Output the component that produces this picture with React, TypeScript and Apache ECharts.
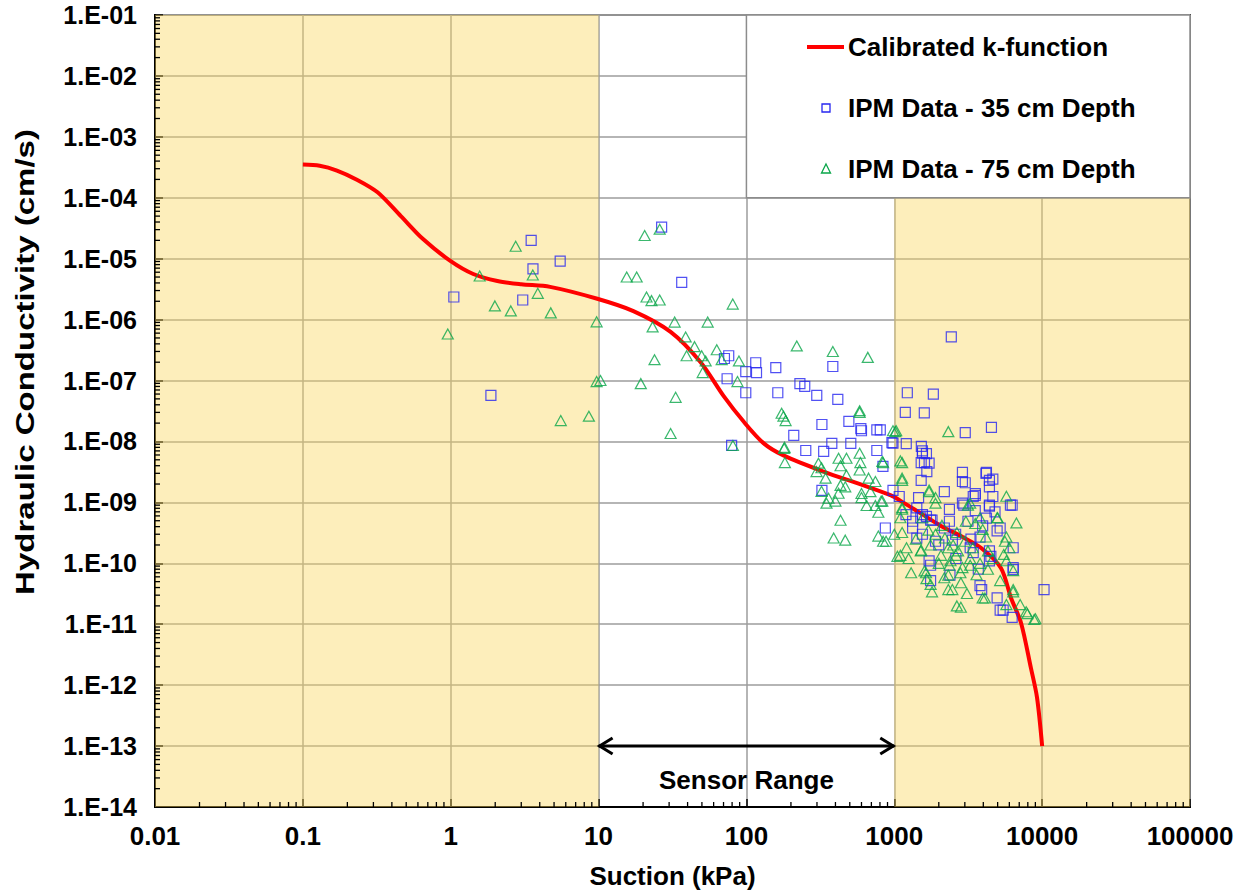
import React, { useEffect, useRef } from "react";
import * as echarts from "echarts";

const xTickLabels = ["0.01", "0.1", "1", "10", "100", "1000", "10000", "100000"];
const yTickLabels = [
  "1.E-14", "1.E-13", "1.E-12", "1.E-11", "1.E-10", "1.E-09", "1.E-08",
  "1.E-07", "1.E-06", "1.E-05", "1.E-04", "1.E-03", "1.E-02", "1.E-01",
];

const seriesNames = ["Calibrated k-function", "IPM Data - 35 cm Depth", "IPM Data - 75 cm Depth"];

// Calibrated k-function: suction (kPa), k (cm/s)
const kSuction = [0.1, 0.13, 0.17, 0.23, 0.32, 0.46, 0.65, 1.0, 1.42, 2.07, 3.0, 4.7, 9.8, 17.2, 30.7, 49, 70, 96, 131, 178, 332, 620, 950, 1110, 1510, 2070, 2820, 3850, 5260, 6160, 7200, 8400, 9230, 10000];
const kValues = [3.5e-4, 3.35e-4, 2.8e-4, 2.0e-4, 1.23e-4, 5.0e-5, 2.1e-5, 9.1e-6, 5.6e-6, 4.3e-6, 3.8e-6, 3.45e-6, 2.2e-6, 1.38e-6, 6.3e-7, 2.0e-7, 5.6e-8, 2.1e-8, 9.3e-9, 5.9e-9, 3.2e-9, 1.9e-9, 1.3e-9, 1.05e-9, 6.6e-10, 4.1e-10, 2.8e-10, 1.8e-10, 8.4e-11, 2.7e-11, 1.05e-11, 1.9e-12, 6.3e-13, 1.0e-13];

// IPM Data - 35 cm depth: [suction kPa, k cm/s]
const ipm35 = [
  [1.05, 2.35e-6], [1.87, 5.7e-8], [3.07, 2.1e-6], [3.5, 2.0e-5], [3.6, 6.8e-6], [5.5, 9.1e-6],
  [26.7, 3.3e-5], [36.5, 4.1e-6], [75.9, 2.55e-7], [71, 2.3e-7], [115.6, 1.96e-7], [99, 1.4e-7], [117, 1.35e-7], [158, 1.63e-7], [384, 1.7e-7], [74, 1.07e-7], [99, 6.3e-8], [163, 6.3e-8], [230, 8.9e-8], [248, 8.0e-8], [299, 5.7e-8], [415, 4.9e-8], [209, 1.26e-8], [324, 1.9e-8], [493, 2.13e-8], [594, 1.63e-8], [600, 1.5e-8], [762, 1.55e-8], [252, 7.1e-9], [333, 6.9e-9], [378, 9.3e-9], [508, 9.3e-9], [762, 7.1e-9], [964, 9.6e-9], [79.4, 8.6e-9], [838, 3.9e-9], [324, 1.58e-9],
  [2430, 5.2e-7], [1225, 6.3e-8], [1837, 6.0e-8], [1187, 3.0e-8], [1596, 2.95e-8], [3020, 1.4e-8], [4540, 1.7e-8], [804, 1.55e-8], [980, 9.4e-9], [1205, 9.2e-9], [1524, 8.3e-9], [1650, 6.3e-9], [1720, 4.4e-9],
  [10300, 3.7e-11], [4170, 3.0e-9], [4640, 2.4e-9], [4400, 1.8e-9], [6100, 9.0e-10], [980, 1.58e-9], [870, 3.8e-10],
  [1550, 6.4e-9], [1520, 4.5e-9], [1660, 3.2e-9], [1520, 2.3e-9], [2890, 3.1e-9], [2890, 2.2e-9], [4200, 3.1e-9], [4400, 2.3e-9], [2180, 1.5e-9], [1080, 1.25e-9], [3530, 1.3e-9], [4640, 1.25e-9], [4400, 9.0e-10], [6270, 9.0e-10], [2360, 7.7e-10], [2890, 9.7e-10], [1510, 5.6e-10], [1650, 5.9e-10], [1800, 5.1e-10], [2360, 4.9e-10], [3150, 4.9e-10], [3960, 4.1e-10], [4960, 3.4e-10], [6370, 1.8e-10], [6370, 8.5e-11], [3260, 1.8e-10], [3800, 2.7e-10], [4400, 1.6e-10], [1760, 9.3e-11], [1760, 5.2e-11], [3800, 4.3e-11], [4960, 2.7e-11], [5200, 1.7e-11], [1420, 8.1e-10], [1200, 6.3e-10], [1330, 3.8e-10], [1550, 3.0e-10], [2180, 3.8e-10], [2470, 2.4e-10], [3420, 1.5e-10], [4400, 1.1e-10], [2610, 1.2e-10], [2380, 6.4e-11],
  [1550, 7.0e-9], [1600, 4.5e-9], [3020, 2.1e-9], [1460, 1.2e-9], [3420, 1.25e-9], [2950, 9.0e-10], [3530, 7.3e-10], [1550, 6.3e-10], [1760, 5.1e-10], [1330, 4.9e-10], [1420, 2.6e-10], [1900, 2.3e-10], [1720, 1.1e-10],
  [3530, 1.4e-9], [4400, 8.7e-10], [5200, 3.8e-10], [6370, 7.9e-11], [5450, 1.7e-11], [6270, 1.3e-11], [3900, 3.7e-11],
  [2000, 2.0e-10], [2600, 3.0e-10], [3300, 2.5e-10], [3700, 8.0e-11], [4200, 5.5e-10], [4800, 7.0e-10], [4500, 1.3e-10],
];

// IPM Data - 75 cm depth: [suction kPa, k cm/s]
const ipm75 = [
  [0.955, 5.8e-7], [1.57, 5.2e-6], [1.99, 1.68e-6], [2.55, 1.39e-6], [2.75, 1.6e-5], [3.59, 5.4e-6], [3.88, 2.7e-6], [4.75, 1.29e-6], [5.55, 2.2e-8], [8.6, 2.6e-8], [9.7, 9.2e-7], [9.7, 9.6e-8],
  [20.5, 2.4e-5], [25.9, 3.05e-5], [15.5, 5.0e-6], [18.1, 5.0e-6], [21.1, 2.35e-6], [22.8, 2.05e-6], [25.9, 2.1e-6], [80.8, 1.8e-6], [23.2, 7.6e-7], [32.7, 9.1e-7], [54.7, 9.1e-7], [38.8, 5.2e-7], [44.6, 3.6e-7], [39.4, 2.55e-7], [49.8, 2.55e-7], [53, 2.1e-7], [63, 3.2e-7], [68, 2.2e-7], [89, 2.1e-7], [87, 9.6e-8], [50.6, 1.35e-7], [23.9, 2.2e-7], [19.3, 8.9e-8], [10.3, 1.0e-7], [33.2, 5.3e-8], [30.7, 1.35e-8], [81, 8.6e-9],
  [219, 3.7e-7], [384, 3.0e-7], [662, 2.4e-7], [173, 2.9e-8], [184, 2.2e-8], [178, 2.6e-8], [583, 3.2e-8], [181, 8.0e-9], [182, 4.5e-9], [1030, 1.5e-8], [583, 6.4e-9],
  [583, 3.0e-8], [180, 7.7e-9], [307, 4.4e-9], [322, 3.7e-9], [298, 3.2e-9], [343, 2.5e-9], [322, 1.52e-9], [359, 1.17e-9], [420, 5.3e-9], [475, 5.3e-9], [433, 4.0e-9], [590, 4.5e-9], [583, 3.4e-9], [475, 2.8e-9], [433, 1.9e-9], [466, 1.8e-9], [420, 1.41e-9], [348, 9.7e-10], [400, 1.05e-9], [433, 5.1e-10], [389, 2.6e-10], [466, 2.4e-10], [600, 1.4e-9], [600, 1.2e-9], [670, 2.5e-9], [745, 2.2e-9], [690, 1.5e-9], [650, 8.9e-10], [745, 8.9e-10], [780, 6.9e-10], [815, 1.05e-9], [840, 4.5e-9], [980, 1.5e-8], [780, 2.8e-10], [840, 2.3e-10],
  [1016, 1.45e-8], [2320, 1.45e-8],
  [9000, 1.23e-11], [7950, 1.49e-11], [8830, 1.2e-11], [7100, 2.1e-11], [6700, 4.6e-10], [5730, 1.26e-9],
  [1130, 4.5e-9], [830, 4.7e-9], [1130, 2.3e-9], [1720, 1.5e-9], [1130, 7.7e-10], [830, 1.05e-9], [1900, 9.7e-10], [2650, 3.2e-10], [3150, 9.0e-10], [3800, 5.6e-10], [5000, 5.6e-10], [3530, 4.5e-10], [3960, 3.6e-10], [1000, 3.0e-10], [880, 2.3e-10], [1050, 1.3e-10], [1210, 1.8e-10], [1510, 1.6e-10], [1640, 7.0e-11], [2070, 1.35e-10], [2320, 1.8e-10], [2610, 1.35e-10], [3260, 1.2e-10], [2360, 9.3e-11], [2890, 8.5e-11], [3800, 1.0e-10], [4640, 1.2e-10], [5730, 1.1e-10], [2320, 6.4e-11], [2820, 4.8e-11], [2320, 3.7e-11], [3100, 3.2e-11], [4100, 2.7e-11], [6370, 3.7e-11], [2650, 2.0e-11], [7800, 1.6e-11], [1650, 5.6e-11], [1800, 3.4e-11], [5730, 2.1e-11], [5200, 5.2e-11],
  [1100, 4.8e-9], [1130, 2.5e-9], [1720, 1.6e-9], [1900, 1.2e-9], [1130, 8.2e-10], [1100, 5.6e-10], [1130, 3.2e-10], [1550, 5.6e-10], [1100, 1.35e-10], [1250, 1.2e-10], [1520, 1.65e-10], [1760, 2.0e-10], [1600, 7.5e-11], [2180, 5.8e-11], [1760, 4.5e-11], [2470, 3.7e-11], [2820, 1.9e-11], [3260, 9.3e-11], [3260, 9.7e-10], [3050, 4.9e-10],
  [3960, 2.7e-11], [6370, 3.4e-11], [5500, 1.4e-10], [6000, 1.8e-10], [5730, 2.7e-10], [4960, 5.6e-10], [5600, 2.3e-10], [4170, 2.7e-10], [6370, 7.6e-11],
  [1900, 3.0e-10], [2200, 2.6e-10], [2500, 2.0e-10], [2700, 1.6e-10], [3000, 2.3e-10], [3400, 1.8e-10], [2000, 1.0e-10], [2400, 1.1e-10], [2800, 7.0e-11], [3600, 6.5e-11], [4300, 8.0e-11], [4300, 1.6e-10], [1400, 2.5e-10], [1300, 7.0e-11], [2100, 4.2e-10], [1700, 3.5e-10],
];

// Shaded (outside sensor range) regions: [x0, x1, y0, y1]
const shadeRegions = [
  [0.01, 10, 1e-14, 1e-1],
  [1000, 100000, 1e-14, 1e-4],
];
const legendBoxRegion = [[100, 100000, 1e-4, 1e-1]];
const sensorRange = [[10, 1000, 1e-13]];

const FONT = "'Liberation Sans', Arial, Helvetica, sans-serif";
const RED = "#ff0000";
const BLUE = "#2626f0";
const GREEN = "#0aa64a";

export default function App() {
  const ref = useRef<HTMLDivElement>(null);
  useEffect(() => {
    if (!ref.current) return;
    const chart = echarts.init(ref.current, undefined, { renderer: "svg" });

    const yMinor: number[][] = [];
    for (let e = -14; e < -1; e++) for (let m = 2; m <= 9; m++) yMinor.push([0.01, m * Math.pow(10, e)]);
    const xMinor: number[][] = [];
    for (let e = -2; e < 5; e++) for (let m = 2; m <= 9; m++) xMinor.push([m * Math.pow(10, e), 1e-14]);

    const rectItem = (fill: string, stroke?: string) => (params: any, api: any) => {
      const p0 = api.coord([api.value(0), api.value(3)]);
      const p1 = api.coord([api.value(1), api.value(2)]);
      return {
        type: "rect",
        shape: { x: p0[0], y: p0[1], width: p1[0] - p0[0], height: p1[1] - p0[1] },
        style: { fill, stroke: stroke || null, lineWidth: stroke ? 1.5 : 0 },
      };
    };

    const legendFont = `bold 26px ${FONT}`;
    const legendX = 848;
    const rows = [47, 108, 169];

    const option: any = {
      animation: false,
      backgroundColor: "#ffffff",
      grid: {
        left: 155, top: 15, width: 1035, height: 795,
        show: true, borderColor: "#000", borderWidth: 2, backgroundColor: "transparent",
      },
      xAxis: {
        type: "log", logBase: 10, min: 0.01, max: 100000, splitNumber: 7, interval: 1,
        axisLine: { show: true, lineStyle: { color: "#000", width: 2 } },
        axisTick: { show: true, inside: true, length: 8, lineStyle: { color: "#000", width: 1.5 } },
        minorTick: { show: false },
        splitLine: { show: true, lineStyle: { color: "#9c9c9c", width: 1.5 } },
        axisLabel: {
          margin: 16, fontSize: 26, fontWeight: "bold", fontFamily: FONT, color: "#000",
          showMinLabel: true, showMaxLabel: true,
          formatter: (v: number) => xTickLabels[Math.round(Math.log10(v)) + 2],
        },
        name: "Suction (kPa)", nameLocation: "middle", nameGap: 56,
        nameTextStyle: { fontSize: 26, fontWeight: "bold", fontFamily: FONT, color: "#000" },
      },
      yAxis: {
        type: "log", logBase: 10, min: 1e-14, max: 1e-1, splitNumber: 13, interval: 1,
        axisLine: { show: true, lineStyle: { color: "#000", width: 2 } },
        axisTick: { show: true, inside: true, length: 8, lineStyle: { color: "#000", width: 1.5 } },
        minorTick: { show: false },
        splitLine: { show: true, lineStyle: { color: "#9c9c9c", width: 1.5 } },
        axisLabel: {
          margin: 18, fontSize: 25, fontWeight: "bold", fontFamily: FONT, color: "#000",
          showMinLabel: true, showMaxLabel: true,
          formatter: (v: number) => yTickLabels[Math.round(Math.log10(v)) + 14],
        },
      },
      graphic: [
        {
          type: "text", x: 25, y: 362, rotation: Math.PI / 2, scaleX: 1.27, z: 100,
          style: {
            text: "Hydraulic Conductivity (cm/s)", font: `bold 26px ${FONT}`, fill: "#000",
            textAlign: "center", textVerticalAlign: "middle",
          },
        },
        { type: "line", z: 100, shape: { x1: 807, y1: rows[0], x2: 844, y2: rows[0] }, style: { stroke: RED, lineWidth: 4 } },
        { type: "rect", z: 100, shape: { x: 822, y: rows[1] - 4, width: 8, height: 8 }, style: { fill: "none", stroke: BLUE, lineWidth: 1.3 } },
        { type: "polygon", z: 100, shape: { points: [[826, rows[2] - 5], [830.5, rows[2] + 4], [821.5, rows[2] + 4]] }, style: { fill: "none", stroke: GREEN, lineWidth: 1.3 } },
        ...seriesNames.map((n, i) => ({
          type: "text", z: 100, x: legendX, y: rows[i],
          style: { text: n, font: legendFont, fill: "#000", textAlign: "left", textVerticalAlign: "middle" },
        })),
      ],
      series: [
        {
          type: "custom", name: "shade", z: 1, silent: true,
          data: shadeRegions, encode: { x: [0, 1], y: [2, 3] },
          renderItem: rectItem("rgba(250, 214, 92, 0.42)"),
        },
        {
          type: "custom", name: "legendBox", z: 1.5, silent: true,
          data: legendBoxRegion, encode: { x: [0, 1], y: [2, 3] },
          renderItem: rectItem("#ffffff", "#8c8c8c"),
        },
        {
          type: "line", name: seriesNames[0], z: 3,
          data: kSuction.map((x, i) => [x, kValues[i]]),
          symbol: "none", smooth: 0.3,
          lineStyle: { color: RED, width: 4 },
          itemStyle: { color: RED },
        },
        {
          type: "scatter", name: seriesNames[1], z: 4, data: ipm35,
          symbol: "rect", symbolSize: 10,
          itemStyle: { color: "rgba(0,0,0,0)", borderColor: BLUE, borderWidth: 1.2 },
        },
        {
          type: "scatter", name: seriesNames[2], z: 5, data: ipm75,
          symbol: "triangle", symbolSize: [11, 10],
          itemStyle: { color: "rgba(0,0,0,0)", borderColor: GREEN, borderWidth: 1.2 },
        },
        {
          type: "custom", name: "yMinorTicks", z: 6, silent: true, data: yMinor,
          renderItem: (params: any, api: any) => {
            const p = api.coord([api.value(0), api.value(1)]);
            return { type: "line", shape: { x1: p[0], y1: p[1], x2: p[0] + 5, y2: p[1] }, style: { stroke: "#000", lineWidth: 1.3 } };
          },
        },
        {
          type: "custom", name: "xMinorTicks", z: 6, silent: true, data: xMinor,
          renderItem: (params: any, api: any) => {
            const p = api.coord([api.value(0), api.value(1)]);
            return { type: "line", shape: { x1: p[0], y1: p[1], x2: p[0], y2: p[1] - 5 }, style: { stroke: "#000", lineWidth: 1.3 } };
          },
        },
        {
          type: "custom", name: "sensorRange", z: 6, silent: true,
          data: sensorRange, encode: { x: [0, 1], y: 2 },
          renderItem: (params: any, api: any) => {
            const a = api.coord([api.value(0), api.value(2)]);
            const b = api.coord([api.value(1), api.value(2)]);
            const st = { stroke: "#000", lineWidth: 3, fill: null };
            return {
              type: "group",
              children: [
                { type: "line", shape: { x1: a[0], y1: a[1], x2: b[0], y2: b[1] }, style: st },
                { type: "polyline", shape: { points: [[a[0] + 14, a[1] - 8], [a[0] + 1, a[1]], [a[0] + 14, a[1] + 8]] }, style: st },
                { type: "polyline", shape: { points: [[b[0] - 14, b[1] - 8], [b[0] - 1, b[1]], [b[0] - 14, b[1] + 8]] }, style: st },
                {
                  type: "text", x: (a[0] + b[0]) / 2, y: a[1] + 34,
                  style: { text: "Sensor Range", font: `bold 26px ${FONT}`, fill: "#000", textAlign: "center", textVerticalAlign: "middle" },
                },
              ],
            };
          },
        },
      ],
    };
    chart.setOption(option);
    return () => chart.dispose();
  }, []);
  return <div ref={ref} style={{ position: "fixed", left: 0, top: 0, width: 1246, height: 894, background: "#fff" }} />;
}
